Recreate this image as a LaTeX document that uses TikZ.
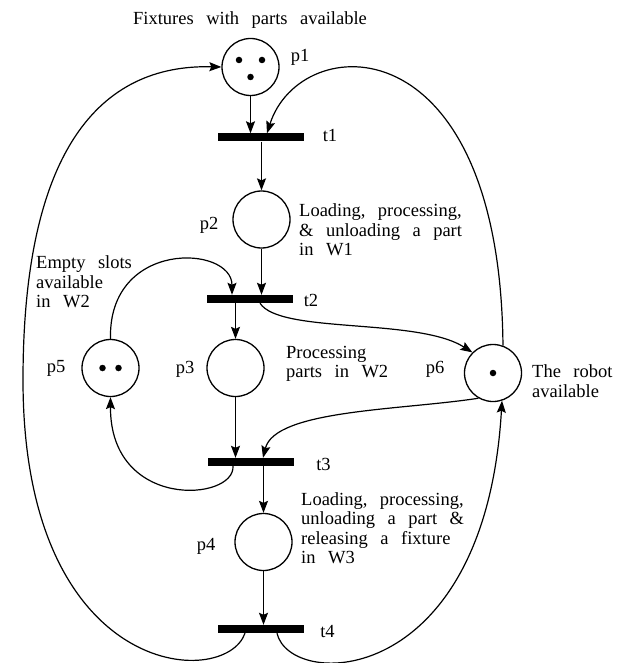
\documentclass[tikz,border=0pt]{standalone}
\usepackage{fontspec}
\setmainfont[WordSpace=2.7]{Liberation Serif}
\usetikzlibrary{arrows.meta,calc}
\begin{document}
\begin{tikzpicture}[x=1pt,y=-1pt,
 place/.style={draw,circle,line width=1.3pt,minimum size=57pt,inner sep=0},
 trans/.style={fill=black,rectangle,minimum width=86pt,minimum height=8pt,inner sep=0},
 tok/.style={fill=black,circle,minimum size=6.5pt,inner sep=0},
 lbl/.style={inner sep=0,anchor=base,font=\fontsize{18.5}{19.5}\selectfont},
 txt/.style={lbl,align=left,anchor=west},
 arc/.style={line width=1.2pt,-{Stealth[length=12pt,width=9pt,inset=2pt]}},
]
\useasboundingbox (0,0) rectangle (620,663);
% places and transitions
\node[place] (p1) at (250.5,67) {};
\node[trans] (t1) at (260.5,137.5) {};
\node[place] (p2) at (261.5,219.5) {};
\node[trans] (t2) at (249.5,299) {};
\node[place] (p3) at (235.5,368) {};
\node[place] (p5) at (110.5,368) {};
\node[place] (p6) at (493,373) {};
\node[trans] (t3) at (251,462) {};
\node[place] (p4) at (263.5,542) {};
\node[trans] (t4) at (261,629) {};
% tokens
\node[tok] (k1) at ($(p1)+(-11.5,-7)$) {};
\node[tok] (k2) at ($(p1)+(11.5,-7)$) {};
\node[tok] (k3) at ($(p1)+(0,10)$) {};
\node[tok] (k4) at ($(p5)+(-8,0)$) {};
\node[tok] (k5) at ($(p5)+(8,0)$) {};
\node[tok] (k6) at (p6) {};
\coordinate (lw) at (23,380);
% arcs
\draw[arc] (p1.south) -- (p1.south |- t1.north);
\draw[arc] (p6.70) .. controls +(-3,-326) and +(33,-103.5) .. ([xshift=6.5pt]t1.north);
\draw[arc] (p2.north |- t1.south) -- (p2.north);
\draw[arc] (p2.south) -- (p2.south |- t2.north);
\draw[arc] (p5.north) .. controls +(-2.5,-99.5) and +(0,-50) .. ([xshift=-17.5pt]t2.north);
\draw[arc] (p3.north |- t2.south) -- (p3.north);
\draw[arc] ([xshift=10.5pt]t2.south) .. controls +(20,31) and +(-55,-35) .. (p6.135);
\draw[arc] (p3.south) -- (p3.south |- t3.north);
\draw[arc] (p6.240) .. controls +(-78,12) and +(12,-48) .. ([xshift=12pt]t3.north);
\draw[arc] (p4.north |- t3.south) -- (p4.north);
\draw[arc] ([xshift=-18pt]t3.south) .. controls +(2,35) and +(-0.5,113.5) .. (p5.south);
\draw[arc] (p4.south) -- (p4.south |- t4.north);
\draw[arc] ([xshift=-16pt]t4.south) .. controls +(-20,57) and +(0,300) .. (lw)
   .. controls +(0,-230) and +(-121.5,-3) .. (p1.west);
\draw[arc] ([xshift=16pt]t4.south) .. controls +(13,57) and +(-17,289.4) .. (p6.-72);
% labels
\node[lbl] (title) at (250,25) {Fixtures with parts available};
\node[lbl] (lp1) at (300,62) {p1};
\node[lbl] (lt1) at (330,142) {t1};
\node[lbl] (lp2) at (209,229) {p2};
\node[lbl] (lt2) at (311,306) {t2};
\node[lbl] (lp5) at (56,372) {p5};
\node[lbl] (lp3) at (185,373) {p3};
\node[lbl] (lp6) at (435,373) {p6};
\node[lbl] (lt3) at (323.5,470) {t3};
\node[lbl] (lp4) at (206,550) {p4};
\node[lbl] (lt4) at (327.5,637) {t4};
\node[txt] (d1) at (299,230) {Loading, processing,\\\& unloading a part\\in W1};
\node[txt] (d5) at (36,282) {Empty slots\\available\\in W2};
\node[txt] (d3) at (286,364) {Processing\\parts in W2};
\node[txt] (d6) at (532,381) {The robot\\available};
\node[txt] (d4) at (301,528) {Loading, processing,\\unloading a part \&\\releasing a fixture\\in W3};
\end{tikzpicture}
\end{document}
